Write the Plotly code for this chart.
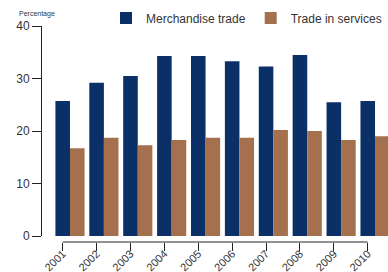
import plotly.graph_objects as go

years = [2001, 2002, 2003, 2004, 2005, 2006, 2007, 2008, 2009, 2010]
merchandise = [25.7, 29.2, 30.5, 34.3, 34.3, 33.3, 32.3, 34.5, 25.5, 25.7]
services = [16.7, 18.7, 17.3, 18.3, 18.7, 18.7, 20.2, 20.0, 18.3, 19.0]
tick_labels = [str(y) for y in years]

NAVY = "#0b3068"
BROWN = "#a4704e"
FONT = "Liberation Sans, Arial, sans-serif"
bargap = 0.14

fig = go.Figure()
fig.add_trace(go.Bar(x=years, y=merchandise, name="Merchandise trade",
                     marker=dict(color=NAVY, line=dict(width=0))))
fig.add_trace(go.Bar(x=years, y=services, name="Trade in services",
                     marker=dict(color=BROWN, line=dict(width=0))))

# ticks sit at the centre of the first bar in each group
offset = (1 - bargap) / 4
tickvals = [y - offset for y in years]

fig.update_layout(
    width=388, height=272,
    margin=dict(l=42, r=0, t=26, b=30, autoexpand=False),
    paper_bgcolor="white", plot_bgcolor="white",
    barmode="group", bargap=bargap, bargroupgap=0,
    font=dict(family=FONT, size=12, color="#333333"),
    showlegend=True,
    legend=dict(orientation="h", x=(106 - 42) / 346, xanchor="left",
                y=1 + (26 - 18) / 216, yanchor="middle",
                font=dict(size=12, color="#333333"),
                bgcolor="rgba(0,0,0,0)", itemclick=False),
    xaxis=dict(type="linear", range=[2000.174, 2010.383], automargin=False,
               tickmode="array", tickvals=tickvals, ticktext=tick_labels,
               tickangle=-45, ticks="outside", ticklen=8, tickcolor="#222222",
               ticklabelstandoff=-8,
               showline=False, showgrid=False, zeroline=False,
               anchor="free", position=0,
               tickfont=dict(size=11, color="#333333")),
    yaxis=dict(range=[0, 40], domain=[6 / 216, 1], dtick=10, automargin=False,
               ticks="outside", ticklen=9, tickcolor="#222222",
               showline=True, linecolor="#222222", linewidth=1,
               showgrid=False, zeroline=False,
               tickfont=dict(size=12, color="#333333")),
    annotations=[dict(text="Percentage", xref="paper", yref="paper",
                      x=(17 - 42) / 346, xanchor="left",
                      y=1 + (26 - 14) / 216, yanchor="middle",
                      showarrow=False, font=dict(size=7, color="#333333"))],
    shapes=[dict(type="line", xref="x", yref="paper",
                 x0=tickvals[0], x1=tickvals[-1], y0=0, y1=0,
                 line=dict(color="#222222", width=1))],
)

fig.write_html("out.html", config={"displayModeBar": False},
               post_script="document.body.style.margin='0';document.body.style.overflow='hidden';")
